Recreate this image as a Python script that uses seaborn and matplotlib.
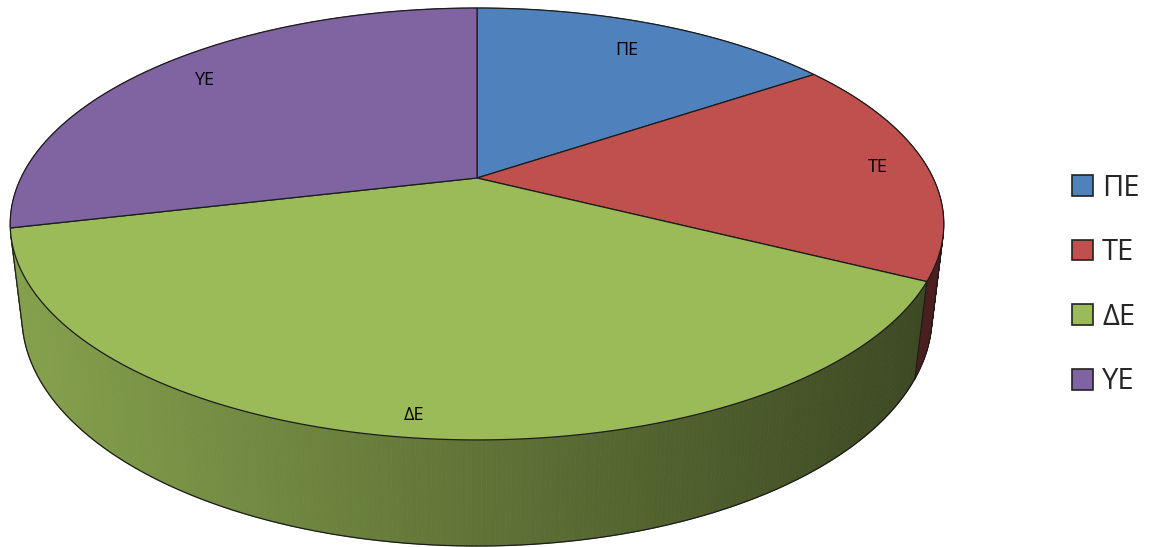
import numpy as np
import matplotlib
matplotlib.use("Agg")
import matplotlib.pyplot as plt
from matplotlib.patches import Polygon, Patch
from matplotlib.collections import PolyCollection
import seaborn as sns

# ---- data ----
categories = ["ΠΕ", "ΤΕ", "ΔΕ", "ΥΕ"]
values = [15.5, 17.0, 38.8, 28.7]
colors = ["#4F81BD", "#C0504D", "#9BBB59", "#8064A2"]
label_radius = [0.81, 0.89, 0.93, 0.85]

sns.set_style("white")
plt.rcParams["font.family"] = ["Open Sans", "DejaVu Sans"]

W, Hpx = 1152, 547
fig = plt.figure(figsize=(W / 100, Hpx / 100), dpi=100)
ax = fig.add_axes([0, 0, 1, 1])
ax.set_xlim(0, W)
ax.set_ylim(Hpx, 0)
ax.axis("off")

# ---- 3D perspective camera ----
sin_e = 0.452
cos_e = np.sqrt(1 - sin_e ** 2)
D = 4.19
S = 1911.0
DEPTH = 0.2275
cx, cy = 477.0, 178.0


def proj(theta, z, r=1.0):
    x = r * np.sin(theta)
    y = -r * np.cos(theta)
    d = D - y * cos_e - z * sin_e
    X = cx + S * x / d
    Y = cy + S * (y * sin_e - z * cos_e) / d
    return X, Y


vals = np.asarray(values, dtype=float)
fr = vals / vals.sum()
bounds = np.concatenate([[0], np.cumsum(fr)]) * 2 * np.pi

edge = "#1c1c1c"

# ---- side walls (sorted far->near) ----
quads, qcols, keys = [], [], []
for i, c in enumerate(colors):
    a0, a1 = bounds[i], bounds[i + 1]
    n = max(int((a1 - a0) / (2 * np.pi) * 720), 4)
    th = np.linspace(a0, a1, n + 1)
    tx, ty = proj(th, 0.0)
    bx, by = proj(th, -DEPTH)
    base = np.array(matplotlib.colors.to_rgb(c))
    for j in range(n):
        q = [(tx[j], ty[j]), (tx[j + 1], ty[j + 1]), (bx[j + 1], by[j + 1]), (bx[j], by[j])]
        xm = (tx[j] + tx[j + 1]) / 2
        f = 0.62 - 0.24 * (xm - cx) / 467.0
        f = np.clip(f, 0.3, 0.95)
        quads.append(q)
        qcols.append(tuple(base * f))
        keys.append(-np.cos((th[j] + th[j + 1]) / 2))
order = np.argsort(keys)
pc = PolyCollection([quads[k] for k in order], facecolors=[qcols[k] for k in order],
                    edgecolors=[qcols[k] for k in order], linewidths=0.6, zorder=1)
ax.add_collection(pc)

# visible front range
lim = np.arccos(-1.0 / (D * cos_e))
vis0, vis1 = lim, 2 * np.pi - lim
for i in range(len(values)):
    a0, a1 = max(bounds[i], vis0), min(bounds[i + 1], vis1)
    if a1 > a0:
        th = np.linspace(a0, a1, 300)
        bx, by = proj(th, -DEPTH)
        ax.plot(bx, by, color=edge, lw=0.9, zorder=2)
for t in [vis0, vis1] + list(bounds[1:-1]):
    if vis0 <= t <= vis1:
        x0, y0 = proj(t, 0.0)
        x1, y1 = proj(t, -DEPTH)
        ax.plot([x0, x1], [y0, y1], color=edge, lw=0.9, zorder=2)

# ---- top faces ----
for i, c in enumerate(colors):
    a0, a1 = bounds[i], bounds[i + 1]
    th = np.linspace(a0, a1, 400)
    tx, ty = proj(th, 0.0)
    pts = [(cx, cy)] + list(zip(tx, ty))
    ax.add_patch(Polygon(pts, closed=True, facecolor=c, edgecolor=edge, lw=0.9, zorder=3))

# ---- labels ----
for i, lab in enumerate(categories):
    mid = (bounds[i] + bounds[i + 1]) / 2
    X, Y = proj(mid, 0.0, label_radius[i])
    ax.text(X, Y, lab, ha="center", va="center", fontsize=13, color="black", zorder=5)

# ---- legend ----
handles = [Patch(facecolor=c, edgecolor="#222222", lw=1.2, label=l) for c, l in zip(colors, categories)]
ax.legend(handles=handles, loc="center left", bbox_to_anchor=(0.908, 0.479), frameon=False,
          fontsize=21, handlelength=0.72, handleheight=0.72, handletextpad=0.3,
          labelspacing=1.22, borderpad=0.4)

fig.savefig("out.png", dpi=100)
